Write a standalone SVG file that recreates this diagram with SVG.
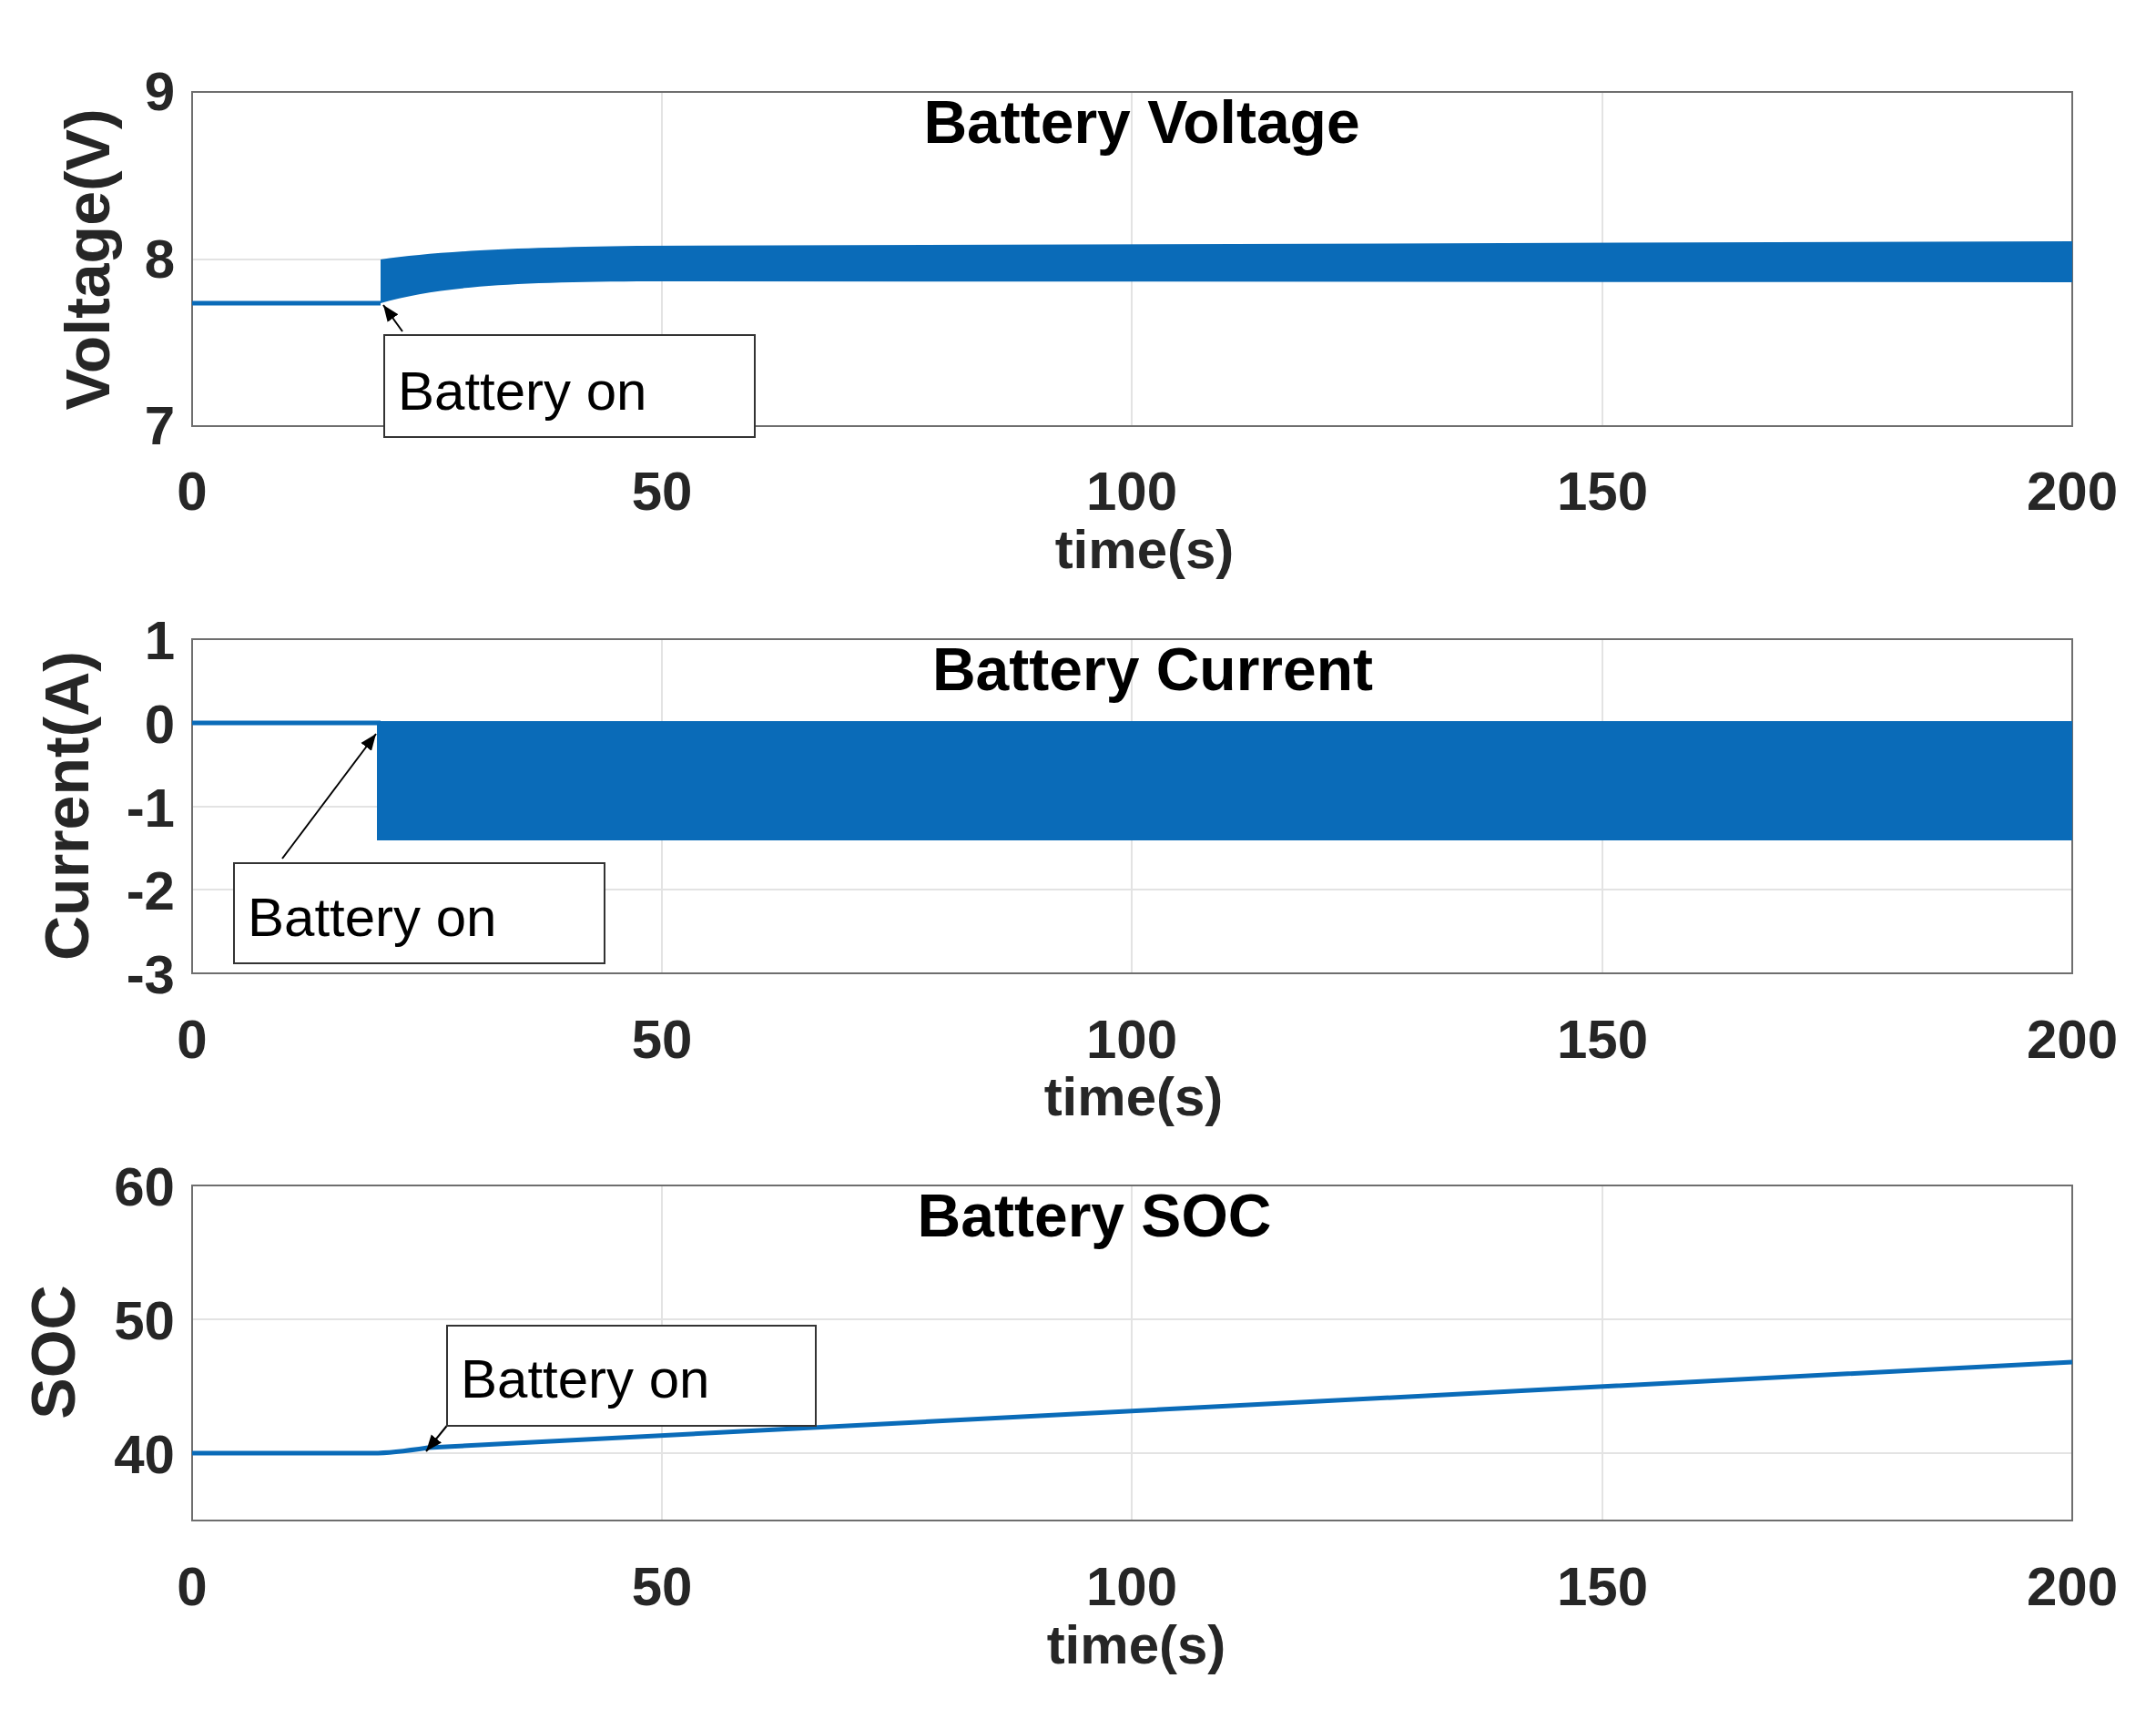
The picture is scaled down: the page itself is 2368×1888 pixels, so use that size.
<svg xmlns="http://www.w3.org/2000/svg" width="2368" height="1888" viewBox="0 0 2368 1888">
<style>
.ax{fill:none;stroke:#6e6e6e;stroke-width:2}
.gr{stroke:#e3e3e3;stroke-width:2}
.tk{font-family:"Liberation Sans",Arial,sans-serif;font-weight:bold;font-size:60px;fill:#262626}
.yl{font-family:"Liberation Sans",Arial,sans-serif;font-weight:bold;font-size:68px;fill:#262626;text-anchor:middle}
.ti{font-family:"Liberation Sans",Arial,sans-serif;font-weight:bold;font-size:66px;fill:#000;text-anchor:middle}
.an{font-family:"Liberation Sans",Arial,sans-serif;font-size:60px;fill:#000}
.bx{fill:#fff;stroke:#333;stroke-width:2}
.ln{fill:none;stroke:#0a6bb8;stroke-width:5}
.ar{stroke:#000;stroke-width:2;marker-end:url(#ah)}
</style>
<defs><marker id="ah" viewBox="0 0 10 10" refX="10" refY="5" markerWidth="9" markerHeight="9" orient="auto"><path d="M0,1 L10,5 L0,9 z" fill="#000"/></marker></defs>
<rect width="2368" height="1888" fill="#fff"/>
<g id="plot-voltage">
<g class="gr"><line x1="727" y1="101" x2="727" y2="468"/><line x1="1243" y1="101" x2="1243" y2="468"/><line x1="1760" y1="101" x2="1760" y2="468"/><line x1="211" y1="285" x2="2276" y2="285"/></g>
<rect class="ax" x="211" y="101" width="2065" height="367"/>
<path class="ln" d="M211,333 L418,333"/>
<path d="M418,333 L418,285 C480,276 560,272 700,270 L2276,265 L2276,310 L700,309 C560,310 480,315 418,333 Z" fill="#0a6bb8"/>
<text class="ti" x="1254" y="157">Battery Voltage</text>
<g class="tk" text-anchor="end"><text x="192" y="121">9</text><text x="192" y="305">8</text><text x="192" y="488">7</text></g>
<g class="tk" text-anchor="middle"><text x="211" y="560">0</text><text x="727" y="560">50</text><text x="1243" y="560">100</text><text x="1760" y="560">150</text><text x="2276" y="560">200</text><text x="1257" y="624">time(s)</text></g>
<text class="yl" transform="translate(120,285) rotate(-90)">Voltage(V)</text>
</g>
<g id="plot-current">
<g class="gr"><line x1="727" y1="702" x2="727" y2="1069"/><line x1="1243" y1="702" x2="1243" y2="1069"/><line x1="1760" y1="702" x2="1760" y2="1069"/><line x1="211" y1="794" x2="2276" y2="794"/><line x1="211" y1="886" x2="2276" y2="886"/><line x1="211" y1="977" x2="2276" y2="977"/></g>
<rect class="ax" x="211" y="702" width="2065" height="367"/>
<path class="ln" d="M211,794 L418,794"/>
<rect x="414" y="792" width="1862" height="131" fill="#0a6bb8"/>
<text class="ti" x="1266" y="758">Battery Current</text>
<g class="tk" text-anchor="end"><text x="192" y="724">1</text><text x="192" y="816">0</text><text x="192" y="908">-1</text><text x="192" y="999">-2</text><text x="192" y="1091">-3</text></g>
<g class="tk" text-anchor="middle"><text x="211" y="1162">0</text><text x="727" y="1162">50</text><text x="1243" y="1162">100</text><text x="1760" y="1162">150</text><text x="2276" y="1162">200</text><text x="1245" y="1225">time(s)</text></g>
<text class="yl" transform="translate(97,885) rotate(-90)">Current(A)</text>
</g>
<g id="plot-soc">
<g class="gr"><line x1="727" y1="1302" x2="727" y2="1670"/><line x1="1243" y1="1302" x2="1243" y2="1670"/><line x1="1760" y1="1302" x2="1760" y2="1670"/><line x1="211" y1="1449" x2="2276" y2="1449"/><line x1="211" y1="1596" x2="2276" y2="1596"/></g>
<rect class="ax" x="211" y="1302" width="2065" height="368"/>
<path class="ln" d="M211,1596 L410,1596 C430,1596 450,1593 470,1590 L2276,1496"/>
<text class="ti" x="1202" y="1358">Battery SOC</text>
<g class="tk" text-anchor="end"><text x="192" y="1324">60</text><text x="192" y="1471">50</text><text x="192" y="1618">40</text></g>
<g class="tk" text-anchor="middle"><text x="211" y="1763">0</text><text x="727" y="1763">50</text><text x="1243" y="1763">100</text><text x="1760" y="1763">150</text><text x="2276" y="1763">200</text><text x="1248" y="1827">time(s)</text></g>
<text class="yl" transform="translate(82,1485) rotate(-90)">SOC</text>
</g>
<g id="connectors">
<line class="ar" x1="442" y1="364" x2="421" y2="335"/>
<line class="ar" x1="310" y1="943" x2="413" y2="806"/>
<line class="ar" x1="494" y1="1562" x2="468" y2="1594"/>
</g>
<g id="ann-voltage"><rect class="bx" x="422" y="368" width="407" height="112"/><text class="an" x="437" y="450">Battery on</text></g>
<g id="ann-current"><rect class="bx" x="257" y="948" width="407" height="110"/><text class="an" x="272" y="1028">Battery on</text></g>
<g id="ann-soc"><rect class="bx" x="491" y="1456" width="405" height="110"/><text class="an" x="506" y="1535">Battery on</text></g>
</svg>
